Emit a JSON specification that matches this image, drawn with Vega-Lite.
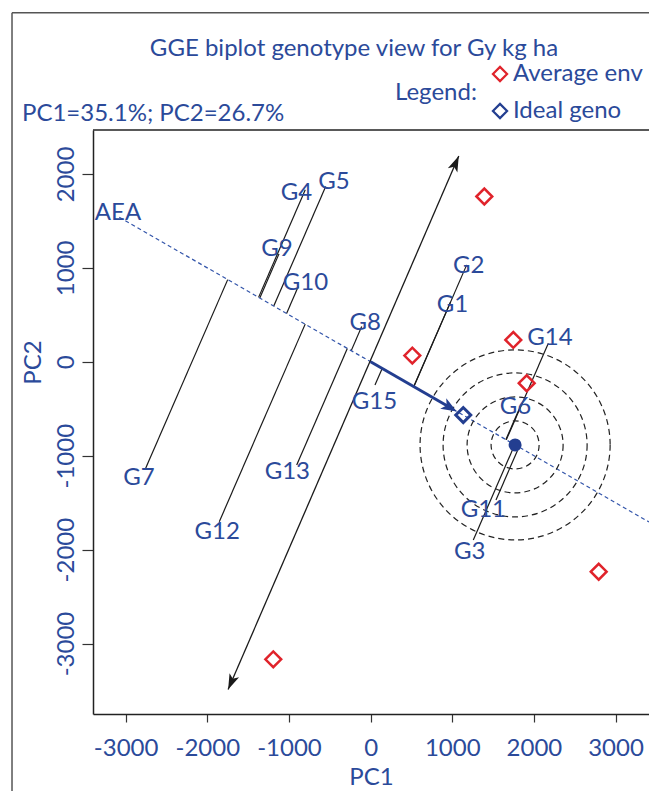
{
  "$schema": "https://vega.github.io/schema/vega-lite/v6.json",
  "width": 556,
  "height": 584,
  "autosize": {"type": "none"},
  "padding": {"left": 93, "top": 130, "right": 0, "bottom": 77},
  "background": "white",
  "config": {"view": {"stroke": null}, "font": "Lato"},
  "title": {
    "text": "GGE biplot genotype view for Gy kg ha",
    "font": "Lato", "fontSize": 24, "fontWeight": "normal", "color": "#2b4a9a",
    "anchor": "middle", "frame": "group", "baseline": "middle", "dx": -17, "offset": -61
  },
  "datasets": {
    "aea": [{"x": -3078, "y": 1539, "x2": 3500, "y2": -1750}],
    "atc": [{"x": -1745, "y": -3490, "x2": 1080, "y2": 2190}],
    "ideal_arrow": [{"x": 0, "y": 0, "x2": 1000, "y2": -500}],
    "genotypes": [
      {"name": "G1", "x": 980, "y": 638, "x2": 529, "y2": -264},
      {"name": "G2", "x": 1177, "y": 1032, "x2": 529, "y2": -265},
      {"name": "G3", "x": 1258, "y": -1897, "x2": 1765, "y2": -883},
      {"name": "G4", "x": -800, "y": 1831, "x2": -1372, "y2": 686},
      {"name": "G5", "x": -550, "y": 1866, "x2": -1186, "y2": 593},
      {"name": "G6", "x": 1842, "y": -459, "x2": 1657, "y2": -829},
      {"name": "G7", "x": -2755, "y": -1134, "x2": -1750, "y2": 875},
      {"name": "G8", "x": -109, "y": 375, "x2": -237, "y2": 119},
      {"name": "G9", "x": -1122, "y": 1149, "x2": -1357, "y2": 679},
      {"name": "G10", "x": -886, "y": 801, "x2": -1029, "y2": 514},
      {"name": "G11", "x": 1536, "y": -1471, "x2": 1817, "y2": -909},
      {"name": "G12", "x": -1853, "y": -1702, "x2": -801, "y2": 401},
      {"name": "G13", "x": -905, "y": -1098, "x2": -285, "y2": 142},
      {"name": "G14", "x": 2177, "y": 198, "x2": 1662, "y2": -831},
      {"name": "G15", "x": 54, "y": -246, "x2": 142, "y2": -71}
    ],
    "labels": [
      {"name": "AEA", "x": -3094, "y": 1597},
      {"name": "G1", "x": 1003, "y": 624},
      {"name": "G2", "x": 1202, "y": 1032},
      {"name": "G3", "x": 1215, "y": -2009},
      {"name": "G4", "x": -908, "y": 1813},
      {"name": "G5", "x": -448, "y": 1927},
      {"name": "G6", "x": 1775, "y": -468},
      {"name": "G7", "x": -2837, "y": -1226},
      {"name": "G8", "x": -65, "y": 428},
      {"name": "G9", "x": -1146, "y": 1213},
      {"name": "G10", "x": -797, "y": 854},
      {"name": "G11", "x": 1381, "y": -1560},
      {"name": "G12", "x": -1878, "y": -1796},
      {"name": "G13", "x": -1020, "y": -1162},
      {"name": "G14", "x": 2197, "y": 268},
      {"name": "G15", "x": 48, "y": -417}
    ],
    "environments": [
      {"x": 1393, "y": 1760, "type": "Average env"},
      {"x": 511, "y": 66, "type": "Average env"},
      {"x": 1748, "y": 233, "type": "Average env"},
      {"x": 1912, "y": -228, "type": "Average env"},
      {"x": 2794, "y": -2235, "type": "Average env"},
      {"x": -1192, "y": -3168, "type": "Average env"}
    ],
    "ideal": [{"x": 1135, "y": -567, "type": "Ideal geno"}],
    "center": [{"x": 1770, "y": -885}],
    "rings": [
      {"x": 1770, "y": -885, "r": 294},
      {"x": 1770, "y": -885, "r": 588},
      {"x": 1770, "y": -885, "r": 882},
      {"x": 1770, "y": -885, "r": 1164}
    ],
    "caption": [{"text": "PC1=35.1%; PC2=26.7%"}]
  },
  "layer": [
    {
      "data": {"name": "genotypes"},
      "mark": {"type": "rule", "color": "#1a1a1a", "strokeWidth": 1.2},
      "encoding": {
        "x": {
          "field": "x", "type": "quantitative",
          "scale": {"domain": [-3400, 3410], "nice": false, "zero": false},
          "axis": {
            "title": "PC1", "values": [-3000, -2000, -1000, 0, 1000, 2000, 3000],
            "grid": false, "domainColor": "#222222", "domainWidth": 1.5,
            "tickColor": "#333333", "tickWidth": 1.2, "tickSize": 8,
            "labelFont": "Lato", "labelFontSize": 24, "labelColor": "#2b4a9a",
            "labelPadding": 14, "labelBaseline": "top", "labelFlush": false, "labelOverlap": false,
            "labelExpr": "'' + datum.value",
            "titleFont": "Lato", "titleFontSize": 24, "titleFontWeight": "normal", "titleColor": "#2b4a9a",
            "titleX": 278, "titleY": 63, "titleBaseline": "middle", "titleAlign": "center",
            "encode": {"labels": {"update": {"dx": {"signal": "datum.value == 1000 ? 6 : 0"}, "dy": {"signal": "datum.value == 1000 ? 3 : 0"}}}}
          }
        },
        "y": {
          "field": "y", "type": "quantitative",
          "scale": {"domain": [-3750, 2468], "nice": false, "zero": false},
          "axis": {
            "title": "PC2", "values": [-3000, -2000, -1000, 0, 1000, 2000],
            "grid": false, "domainColor": "#222222", "domainWidth": 1.5,
            "tickColor": "#333333", "tickWidth": 1.2, "tickSize": 11,
            "labelFont": "Lato", "labelFontSize": 24, "labelColor": "#2b4a9a",
            "labelAngle": 270, "labelAlign": "center", "labelBaseline": "alphabetic",
            "labelPadding": 9, "labelFlush": false, "labelOverlap": false,
            "labelExpr": "'' + datum.value",
            "titleFont": "Lato", "titleFontSize": 24, "titleFontWeight": "normal", "titleColor": "#2b4a9a",
            "titleX": -60, "titleY": 232, "titleBaseline": "middle", "titleAlign": "center", "titleAngle": 270
          }
        },
        "x2": {"field": "x2"},
        "y2": {"field": "y2"}
      }
    },
    {
      "data": {"values": [{}]},
      "mark": {"type": "rule", "color": "#555555", "strokeWidth": 1.5},
      "encoding": {
        "x": {"datum": -4392, "type": "quantitative", "scale": {"domain": [-3400, 3410], "nice": false, "zero": false}},
        "y": {"datum": 3716, "type": "quantitative", "scale": {"domain": [-3750, 2468], "nice": false, "zero": false}},
        "y2": {"datum": -4700}
      }
    },
    {
      "data": {"values": [{}]},
      "mark": {"type": "rule", "color": "#555555", "strokeWidth": 1.5},
      "encoding": {
        "x": {"datum": -4392, "type": "quantitative", "scale": {"domain": [-3400, 3410], "nice": false, "zero": false}},
        "x2": {"datum": 3600},
        "y": {"datum": 3716, "type": "quantitative", "scale": {"domain": [-3750, 2468], "nice": false, "zero": false}}
      }
    },
    {
      "data": {"values": [{}]},
      "mark": {"type": "rule", "color": "#222222", "strokeWidth": 1.5},
      "encoding": {
        "y": {"datum": 2468, "type": "quantitative", "scale": {"domain": [-3750, 2468], "nice": false, "zero": false}}
      }
    },
    {
      "data": {"name": "aea"},
      "mark": {"type": "rule", "color": "#3355aa", "strokeWidth": 1.2, "strokeDash": [4, 3], "clip": true},
      "encoding": {
        "x": {"field": "x", "type": "quantitative", "scale": {"domain": [-3400, 3410], "nice": false, "zero": false}},
        "y": {"field": "y", "type": "quantitative", "scale": {"domain": [-3750, 2468], "nice": false, "zero": false}},
        "x2": {"field": "x2"}, "y2": {"field": "y2"}
      }
    },
    {
      "data": {"name": "rings"},
      "mark": {"type": "point", "shape": "circle", "filled": false, "color": "#222222", "strokeWidth": 1.2, "strokeDash": [6, 4], "opacity": 1},
      "encoding": {
        "x": {"field": "x", "type": "quantitative", "scale": {"domain": [-3400, 3410], "nice": false, "zero": false}},
        "y": {"field": "y", "type": "quantitative", "scale": {"domain": [-3750, 2468], "nice": false, "zero": false}},
        "size": {"field": "r", "type": "quantitative", "scale": {"type": "pow", "exponent": 2, "domain": [0, 1200], "range": [0, 38396], "zero": true}, "legend": null}
      }
    },
    {
      "data": {"name": "atc"},
      "mark": {"type": "rule", "color": "#1a1a1a", "strokeWidth": 1.3},
      "encoding": {
        "x": {"field": "x", "type": "quantitative", "scale": {"domain": [-3400, 3410], "nice": false, "zero": false}},
        "y": {"field": "y", "type": "quantitative", "scale": {"domain": [-3750, 2468], "nice": false, "zero": false}},
        "x2": {"field": "x2"}, "y2": {"field": "y2"}
      }
    },
    {
      "data": {"values": [{}]},
      "mark": {"type": "point", "shape": "M0,0L0.6,1.8L0,1.35L-0.6,1.8Z", "filled": true, "color": "#1a1a1a", "size": 300, "angle": 23.4, "opacity": 1},
      "encoding": {
        "x": {"datum": 1080, "type": "quantitative", "scale": {"domain": [-3400, 3410], "nice": false, "zero": false}},
        "y": {"datum": 2190, "type": "quantitative", "scale": {"domain": [-3750, 2468], "nice": false, "zero": false}}
      }
    },
    {
      "data": {"values": [{}]},
      "mark": {"type": "point", "shape": "M0,0L0.6,1.8L0,1.35L-0.6,1.8Z", "filled": true, "color": "#1a1a1a", "size": 300, "angle": 203.4, "opacity": 1},
      "encoding": {
        "x": {"datum": -1745, "type": "quantitative", "scale": {"domain": [-3400, 3410], "nice": false, "zero": false}},
        "y": {"datum": -3490, "type": "quantitative", "scale": {"domain": [-3750, 2468], "nice": false, "zero": false}}
      }
    },
    {
      "data": {"name": "ideal_arrow"},
      "mark": {"type": "rule", "color": "#233e90", "strokeWidth": 3},
      "encoding": {
        "x": {"field": "x", "type": "quantitative", "scale": {"domain": [-3400, 3410], "nice": false, "zero": false}},
        "y": {"field": "y", "type": "quantitative", "scale": {"domain": [-3750, 2468], "nice": false, "zero": false}},
        "x2": {"field": "x2"}, "y2": {"field": "y2"}
      }
    },
    {
      "data": {"values": [{}]},
      "mark": {"type": "point", "shape": "M0,0L0.7,1.8L0,1.35L-0.7,1.8Z", "filled": true, "color": "#233e90", "size": 300, "angle": 120, "opacity": 1},
      "encoding": {
        "x": {"datum": 1055, "type": "quantitative", "scale": {"domain": [-3400, 3410], "nice": false, "zero": false}},
        "y": {"datum": -528, "type": "quantitative", "scale": {"domain": [-3750, 2468], "nice": false, "zero": false}}
      }
    },
    {
      "data": {"name": "environments"},
      "mark": {"type": "point", "shape": "diamond", "filled": false, "strokeWidth": 2.5, "size": 250, "opacity": 1},
      "encoding": {
        "x": {"field": "x", "type": "quantitative", "scale": {"domain": [-3400, 3410], "nice": false, "zero": false}},
        "y": {"field": "y", "type": "quantitative", "scale": {"domain": [-3750, 2468], "nice": false, "zero": false}},
        "color": {
          "field": "type", "type": "nominal",
          "scale": {"domain": ["Average env", "Ideal geno"], "range": ["#e0232b", "#233e90"]},
          "legend": {
            "title": "Legend:", "orient": "none", "legendX": 302, "legendY": -68,
            "titleOrient": "left", "titleAnchor": "middle", "titleBaseline": "middle",
            "titleFont": "Lato", "titleFontSize": 24, "titleFontWeight": "normal", "titleColor": "#2b4a9a",
            "titlePadding": 11,
            "labelFont": "Lato", "labelFontSize": 24, "labelColor": "#2b4a9a", "labelOffset": 1,
            "symbolType": "diamond", "symbolSize": 200, "symbolStrokeWidth": 2.2,
            "rowPadding": 13, "padding": 0
          }
        }
      }
    },
    {
      "data": {"name": "ideal"},
      "mark": {"type": "point", "shape": "diamond", "filled": false, "strokeWidth": 3, "size": 225, "opacity": 1},
      "encoding": {
        "x": {"field": "x", "type": "quantitative", "scale": {"domain": [-3400, 3410], "nice": false, "zero": false}},
        "y": {"field": "y", "type": "quantitative", "scale": {"domain": [-3750, 2468], "nice": false, "zero": false}},
        "color": {"field": "type", "type": "nominal"}
      }
    },
    {
      "data": {"name": "center"},
      "mark": {"type": "point", "shape": "circle", "filled": true, "color": "#233e90", "size": 169, "opacity": 1},
      "encoding": {
        "x": {"field": "x", "type": "quantitative", "scale": {"domain": [-3400, 3410], "nice": false, "zero": false}},
        "y": {"field": "y", "type": "quantitative", "scale": {"domain": [-3750, 2468], "nice": false, "zero": false}}
      }
    },
    {
      "data": {"name": "labels"},
      "mark": {"type": "text", "font": "Lato", "fontSize": 24, "color": "#2b4a9a", "align": "center", "baseline": "middle", "dy": 1.5},
      "encoding": {
        "x": {"field": "x", "type": "quantitative", "scale": {"domain": [-3400, 3410], "nice": false, "zero": false}},
        "y": {"field": "y", "type": "quantitative", "scale": {"domain": [-3750, 2468], "nice": false, "zero": false}},
        "text": {"field": "name"}
      }
    },
    {
      "data": {"name": "caption"},
      "mark": {"type": "text", "font": "Lato", "fontSize": 24, "color": "#2b4a9a", "align": "left", "baseline": "middle", "dy": 1.5},
      "encoding": {
        "x": {"datum": -4270, "type": "quantitative", "scale": {"domain": [-3400, 3410], "nice": false, "zero": false}},
        "y": {"datum": 2651, "type": "quantitative", "scale": {"domain": [-3750, 2468], "nice": false, "zero": false}},
        "text": {"field": "text"}
      }
    }
  ]
}
